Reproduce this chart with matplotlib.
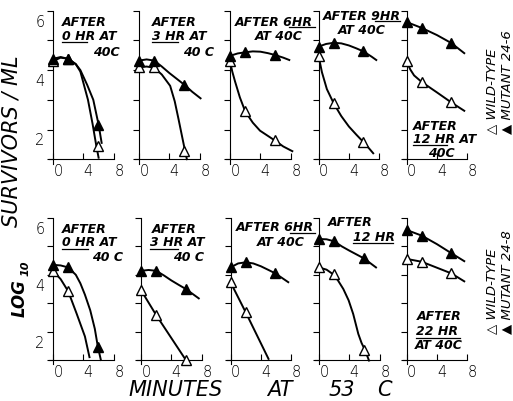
import numpy as np
import matplotlib.pyplot as plt
from matplotlib.lines import Line2D
from matplotlib.transforms import ScaledTranslation

nan = np.nan

# sampling times (minutes at 53 C)
minutes = [0, 2, 5.9]

# measured points, log10 survivors/ml  (one list per panel, left to right)
top_wt = [[4.30, 4.38, 1.45], [4.09, 4.09, 1.29], [4.30, 2.61, 1.63],
          [4.49, 2.88, 1.58], [4.30, 3.60, 2.91]]
top_mu = [[4.38, 4.38, 2.16], [4.32, 4.32, 3.50], [4.48, 4.60, 4.51],
          [4.79, 4.92, 4.63], [5.62, 5.42, 4.91]]
bot_wt = [[4.14, 3.42, nan], [3.46, 2.58, 1.00], [3.74, 2.68, nan],
          [4.26, 4.03, 1.35], [4.56, 4.46, 4.05]]
bot_mu = [[4.35, 4.26, 1.47], [4.14, 4.14, 3.50], [4.26, 4.44, 4.05],
          [5.26, 5.18, 4.58], [5.58, 5.38, 4.76]]

# hand drawn curves
top_wt_cx = [[0, 1, 2, 3, 3.6, 4.6, 5.2, 5.7, 6.0],
             [0, 1, 2, 3, 4.1, 4.7, 5.2, 5.6, 6.05, 6.3],
             [0, 0.3, 0.66, 1.3, 2, 3, 3.95, 5.9, 7, 8.2],
             [0, 0.45, 1.1, 2, 3, 4, 5, 5.9, 6.6, 7.2],
             [0, 0.5, 1, 2, 4, 5.9, 7.6]]
top_wt_cy = [[4.30, 4.42, 4.38, 4.2, 3.95, 3.0, 2.2, 1.45, 1.05],
             [4.09, 4.12, 4.08, 3.85, 3.47, 2.95, 2.35, 1.85, 1.29, 1.0],
             [4.30, 3.95, 3.62, 3.08, 2.61, 2.23, 1.96, 1.63, 1.43, 1.27],
             [4.49, 3.93, 3.36, 2.88, 2.45, 2.1, 1.82, 1.58, 1.38, 1.2],
             [4.30, 4.02, 3.82, 3.60, 3.25, 2.91, 2.63]]
top_mu_cx = [[0, 1, 2, 3, 3.6, 4.5, 5.3, 6, 6.4],
             [0, 1, 2, 3, 4, 5, 6, 7, 8.1],
             [0, 1, 2, 3, 4, 5, 5.9, 7, 7.8],
             [0, 1, 2, 3, 4, 5, 5.9, 7, 7.6],
             [0, 2, 4, 5.9, 7.6]]
top_mu_cy = [[4.38, 4.44, 4.38, 4.2, 4.0, 3.5, 3.0, 2.16, 1.55],
             [4.32, 4.36, 4.32, 4.12, 3.9, 3.7, 3.5, 3.27, 3.05],
             [4.48, 4.56, 4.60, 4.63, 4.62, 4.57, 4.51, 4.42, 4.34],
             [4.79, 4.88, 4.92, 4.9, 4.83, 4.73, 4.63, 4.45, 4.34],
             [5.62, 5.42, 5.18, 4.91, 4.57]]
bot_wt_cx = [[0, 1, 2, 3.1, 4.2, 4.8],
             [0, 2, 5.9],
             [0, 2, 5.0],
             [0, 1, 1.8, 2.5, 3.2, 3.9, 4.5, 5.17, 5.6, 6.05, 6.58],
             [0, 2, 4, 5.9, 7.6]]
bot_wt_cy = [[4.14, 3.85, 3.42, 2.64, 1.83, 1.1],
             [3.46, 2.58, 1.0],
             [3.74, 2.68, 1.04],
             [4.26, 4.18, 4.03, 3.8, 3.5, 3.1, 2.62, 1.92, 1.6, 1.35, 0.98],
             [4.56, 4.46, 4.25, 4.05, 3.77]]
bot_mu_cx = [[0, 1, 2, 3, 3.6, 4.2, 4.9, 5.5, 5.9, 6.3],
             [0, 1, 2, 3, 4, 5, 5.9, 7.6],
             [0, 1, 2, 3, 4, 5, 5.9, 7.6],
             [0, 1, 2, 3, 4, 5.9, 7.5],
             [0, 2, 4, 5.9, 7.6]]
bot_mu_cy = [[4.35, 4.33, 4.26, 4.0, 3.7, 3.3, 2.75, 2.1, 1.47, 1.0],
             [4.14, 4.17, 4.14, 3.98, 3.8, 3.64, 3.50, 3.17],
             [4.26, 4.4, 4.44, 4.4, 4.3, 4.17, 4.05, 3.74],
             [5.26, 5.25, 5.18, 5.0, 4.85, 4.58, 4.26],
             [5.58, 5.38, 5.08, 4.76, 4.48]]

x_ticks = [0, 4, 8]
y_ticks = [1, 2, 3, 4, 5, 6]
y_ticklabels = ['', '2', '', '4', '', '6']

# panel captions: (text, left px, centre px) and underlines (x0, x1, y) in pixels
top_notes = [[('AFTER', 62, 23), ('0 HR AT', 62, 37), ('40C', 93, 53)],
             [('AFTER', 152, 23), ('3 HR AT', 152, 37), ('40 C', 183, 53)],
             [('AFTER 6HR', 235, 22), ('AT 40C', 255, 37)],
             [('AFTER 9HR', 323, 16), ('AT 40C', 338, 31)],
             [('AFTER', 413, 126), ('12 HR AT', 413, 140), ('40C', 428, 154)]]
top_lines = [(62, 87, 43), (152, 178, 43), (289, 315, 28), (375, 400, 22), (413, 447, 146)]
bot_notes = [[('AFTER', 62, 230), ('0 HR AT', 62, 243), ('40 C', 92, 258)],
             [('AFTER', 152, 230), ('3 HR AT', 150, 243), ('40 C', 173, 258)],
             [('AFTER 6HR', 236, 228), ('AT 40C', 257, 243)],
             [('AFTER', 328, 223), ('12 HR', 353, 238)],
             [('AFTER', 417, 317), ('22 HR', 416, 332), ('AT 40C', 415, 346)]]
bot_lines = [(62, 88, 250), (150, 178, 250), (290, 315, 234), (353, 393, 244), (416, 460, 339)]

W, H = 513, 402
fig = plt.figure(figsize=(W / 100, H / 100), dpi=100)


def fx(x):
    return x / W


def fy(y):
    return 1 - y / H


# layout of the panels in pixels
axis_x = [[53, 139, 230, 318.5, 406.5], [53, 141, 230.5, 319, 406.5]]
y6_px = [11.7, 219]
sy_px = [29.7, 28.4]
sx_px = 7.6
xmin, xmax = -0.7, 9.0
ymin, ymax = 0.8, 6.2

rows = [(top_wt, top_mu, top_wt_cx, top_wt_cy, top_mu_cx, top_mu_cy),
        (bot_wt, bot_mu, bot_wt_cx, bot_wt_cy, bot_mu_cx, bot_mu_cy)]

for r, (wt, mu, wcx, wcy, mcx, mcy) in enumerate(rows):
    for i in range(5):
        left = axis_x[r][i] + xmin * sx_px
        width = (xmax - xmin) * sx_px
        top = y6_px[r] - (ymax - 6) * sy_px[r]
        height = (ymax - ymin) * sy_px[r]
        ax = fig.add_axes([left / W, 1 - (top + height) / H, width / W, height / H])
        ax.patch.set_visible(False)

        ax.plot(wcx[i], wcy[i], color='black', lw=1.4, zorder=2)
        ax.plot(mcx[i], mcy[i], color='black', lw=1.4, zorder=2)
        ax.plot(minutes, wt[i], ls='none', marker='^', ms=6.5, mfc='white',
                mec='black', mew=1.0, zorder=3)
        ax.plot(minutes, mu[i], ls='none', marker='^', ms=6.5, mfc='black',
                mec='black', zorder=3)

        ax.set_xlim(xmin, xmax)
        ax.set_ylim(ymin, ymax)
        for s in ['top', 'right']:
            ax.spines[s].set_visible(False)
        ax.spines['left'].set_position(('data', 0))
        ax.spines['left'].set_bounds(0.85, 6)
        ax.spines['bottom'].set_position(('data', 1))
        ax.spines['bottom'].set_bounds(-0.5, 8)
        for s in ['left', 'bottom']:
            ax.spines[s].set_linewidth(0.8)

        ax.set_xticks(x_ticks)
        ax.tick_params(axis='x', direction='in', length=4, width=0.8, pad=3, labelsize=10.5)
        for lab in ax.get_xticklabels():
            lab.set_fontweight('light')
            lab.set_transform(lab.get_transform() + ScaledTranslation(0.05, 0, fig.dpi_scale_trans))
        ax.set_yticks(y_ticks)
        ax.tick_params(axis='y', direction='out', length=4, width=0.8, pad=2, labelsize=10.5)
        if i == 0:
            ax.set_yticklabels(y_ticklabels)
            for lab in ax.get_yticklabels():
                lab.set_fontweight('light')
                lab.set_transform(lab.get_transform() + ScaledTranslation(0, -0.09, fig.dpi_scale_trans))
        else:
            ax.tick_params(axis='y', labelleft=False)

# captions inside the panels
for notes, lines in [(top_notes, top_lines), (bot_notes, bot_lines)]:
    for panel in notes:
        for txt, x, y in panel:
            fig.text(fx(x), fy(y), txt, ha='left', va='center', fontsize=9,
                     fontweight='bold', fontstyle='italic')
    for x0, x1, y in lines:
        fig.add_artist(Line2D([fx(x0), fx(x1)], [fy(y), fy(y)], transform=fig.transFigure,
                              color='black', lw=0.9))

# axis titles
fig.text(fx(12), fy(141), 'SURVIVORS / ML', rotation=90, ha='center', va='center',
         fontsize=15, fontstyle='italic')
fig.text(fx(20), fy(298), 'LOG', rotation=90, ha='center', va='center',
         fontsize=12, fontweight='bold', fontstyle='italic')
fig.text(fx(26), fy(268), '10', rotation=90, ha='center', va='center',
         fontsize=8, fontweight='bold', fontstyle='italic')
for word, x in [('MINUTES', 176), ('AT', 280), ('53', 342), ('C', 384)]:
    fig.text(fx(x), fy(390), word, ha='center', va='center', fontsize=15, fontstyle='italic')

# legends written sideways at the right
for y, strain in [(134, '24-6'), (334, '24-8')]:
    fig.text(fx(492), fy(y), '\u25b3 WILD-TYPE', rotation=90, rotation_mode='anchor',
             ha='left', va='center', fontsize=9.5, fontstyle='italic')
    fig.text(fx(507), fy(y), '\u25b2 MUTANT ' + strain, rotation=90, rotation_mode='anchor',
             ha='left', va='center', fontsize=9.5, fontstyle='italic')

fig.savefig('out.png', dpi=100)
